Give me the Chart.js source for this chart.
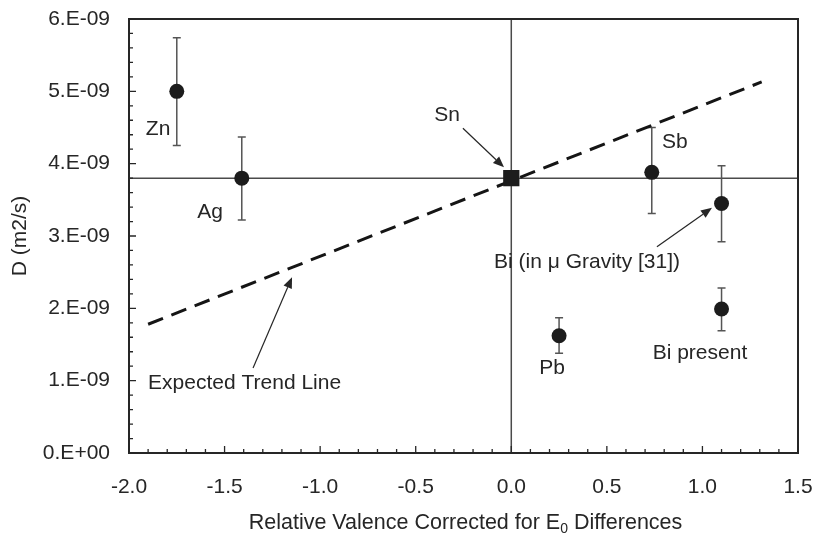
<!DOCTYPE html>
<html lang="en">
<head>
<meta charset="UTF-8">
<title>Diffusion coefficient vs relative valence</title>
<script src="https://cdn.jsdelivr.net/npm/chart.js"></script>
<style>
  body { margin: 0; background: #fff; }
  .wrap { width: 814px; height: 535px; position: relative; }
</style>
</head>
<body>
<div class="wrap"><canvas id="chart"></canvas></div>
<script>
// measured solutes: x = relative valence, y = D (m2/s), with error bar limits
const solutes   = ['Zn', 'Ag', 'Sb', 'Bi (in \u03bc Gravity [31])', 'Pb', 'Bi present'];
const valence   = [-1.75, -1.41, 0.735, 1.10, 0.25, 1.10];
const diffD     = [5.00e-9, 3.80e-9, 3.88e-9, 3.45e-9, 1.62e-9, 1.99e-9];
const errUpper  = [5.74e-9, 4.37e-9, 4.50e-9, 3.97e-9, 1.87e-9, 2.28e-9];
const errLower  = [4.25e-9, 3.22e-9, 3.31e-9, 2.92e-9, 1.38e-9, 1.69e-9];

// solvent reference point (Sn) - also sets the cross lines
const snValence = 0.0;
const snD       = 3.80e-9;

// expected trend line end points
const trendX = [-1.90, 1.31];
const trendY = [1.78e-9, 5.13e-9];

const xTickValues = [-2.0, -1.5, -1.0, -0.5, 0.0, 0.5, 1.0, 1.5];
const xTickLabels = ['-2.0', '-1.5', '-1.0', '-0.5', '0.0', '0.5', '1.0', '1.5'];
const yTickLabels = ['0.E+00', '1.E-09', '2.E-09', '3.E-09', '4.E-09', '5.E-09', '6.E-09'];

const FONT = '"Liberation Sans", Arial, sans-serif';
const INK = '#262626';

// text labels and arrows, placed in data units
const notes = [
  { text: 'Zn', x: -1.848, y: 4.47e-9, align: 'center' },
  { text: 'Ag', x: -1.576, y: 3.33e-9, align: 'center' },
  { text: 'Sn', x: -0.336, y: 4.67e-9, align: 'center' },
  { text: 'Sb', x: 0.789, y: 4.29e-9, align: 'left' },
  { text: 'Bi (in \u03bc Gravity [31])', x: -0.09, y: 2.64e-9, align: 'left' },
  { text: 'Pb', x: 0.213, y: 1.175e-9, align: 'center' },
  { text: 'Bi present', x: 0.987, y: 1.38e-9, align: 'center' },
  { text: 'Expected Trend Line', x: -1.90, y: 0.97e-9, align: 'left' }
];
const arrows = [
  { from: [-0.253, 4.49e-9], to: [-0.038, 3.95e-9] },
  { from: [0.762, 2.85e-9], to: [1.05, 3.39e-9] },
  { from: [-1.351, 1.175e-9], to: [-1.147, 2.43e-9] }
];

const pointData = valence.map((v, i) => ({ x: v, y: diffD[i] }));

// keep tick label overhang from shrinking the plot area
function noOverhang(s) {
  s.paddingTop = 0; s.paddingBottom = 0;
  s.paddingLeft = 0; s.paddingRight = 0;
}

const underlay = {
  id: 'underlay',
  beforeDatasetsDraw(chart) {
    const { ctx, chartArea: a, scales: { x, y } } = chart;
    ctx.save();
    // cross lines through Sn
    ctx.strokeStyle = '#4a4a4a';
    ctx.lineWidth = 1.5;
    const cx = x.getPixelForValue(snValence);
    const cy = y.getPixelForValue(snD);
    ctx.beginPath();
    ctx.moveTo(cx, a.top); ctx.lineTo(cx, a.bottom);
    ctx.moveTo(a.left, cy); ctx.lineTo(a.right, cy);
    ctx.stroke();
    // error bars
    ctx.strokeStyle = '#555';
    ctx.lineWidth = 1.5;
    valence.forEach((v, i) => {
      const px = x.getPixelForValue(v);
      const pt = y.getPixelForValue(errUpper[i]);
      const pb = y.getPixelForValue(errLower[i]);
      ctx.beginPath();
      ctx.moveTo(px, pt); ctx.lineTo(px, pb);
      ctx.moveTo(px - 4, pt); ctx.lineTo(px + 4, pt);
      ctx.moveTo(px - 4, pb); ctx.lineTo(px + 4, pb);
      ctx.stroke();
    });
    ctx.restore();
  }
};

function drawArrow(ctx, x1, y1, x2, y2) {
  const ang = Math.atan2(y2 - y1, x2 - x1);
  const len = 11, half = 4.5;
  const bx = x2 - len * Math.cos(ang), by = y2 - len * Math.sin(ang);
  ctx.beginPath();
  ctx.moveTo(x1, y1); ctx.lineTo(bx, by);
  ctx.stroke();
  ctx.beginPath();
  ctx.moveTo(x2, y2);
  ctx.lineTo(bx + half * Math.sin(ang), by - half * Math.cos(ang));
  ctx.lineTo(bx - half * Math.sin(ang), by + half * Math.cos(ang));
  ctx.closePath();
  ctx.fill();
}

const overlay = {
  id: 'overlay',
  afterDraw(chart) {
    const { ctx, chartArea: a, scales: { x, y } } = chart;
    ctx.save();
    // frame
    ctx.strokeStyle = INK;
    ctx.lineWidth = 2;
    ctx.strokeRect(a.left, a.top, a.right - a.left, a.bottom - a.top);
    // inward ticks: majors and minors
    ctx.lineWidth = 1.3;
    ctx.beginPath();
    for (let i = 0; i <= 35; i++) {
      const px = x.getPixelForValue(-2 + i * 0.1);
      const len = i % 5 === 0 ? 7 : 4;
      ctx.moveTo(px, a.bottom); ctx.lineTo(px, a.bottom - len);
    }
    for (let i = 0; i <= 30; i++) {
      const py = y.getPixelForValue(i * 0.2e-9);
      const len = i % 5 === 0 ? 7 : 4;
      ctx.moveTo(a.left, py); ctx.lineTo(a.left + len, py);
    }
    ctx.stroke();

    // annotations
    ctx.fillStyle = INK;
    ctx.font = '21px ' + FONT;
    ctx.textBaseline = 'middle';
    notes.forEach(n => {
      ctx.textAlign = n.align;
      ctx.fillText(n.text, x.getPixelForValue(n.x), y.getPixelForValue(n.y));
    });
    ctx.strokeStyle = INK;
    ctx.lineWidth = 1.2;
    arrows.forEach(ar => {
      drawArrow(ctx,
        x.getPixelForValue(ar.from[0]), y.getPixelForValue(ar.from[1]),
        x.getPixelForValue(ar.to[0]), y.getPixelForValue(ar.to[1]));
    });

    // x axis title with subscript
    const partA = 'Relative Valence Corrected for E';
    const sub = '0';
    const partB = ' Differences';
    ctx.textAlign = 'left';
    ctx.textBaseline = 'alphabetic';
    ctx.font = '21.5px ' + FONT;
    const wA = ctx.measureText(partA).width;
    const wB = ctx.measureText(partB).width;
    ctx.font = '14px ' + FONT;
    const wS = ctx.measureText(sub).width;
    const total = wA + wS + wB;
    const tx = (a.left + a.right) / 2 + 2 - total / 2;
    const base = 529;
    ctx.font = '21.5px ' + FONT;
    ctx.fillText(partA, tx, base);
    ctx.font = '14px ' + FONT;
    ctx.fillText(sub, tx + wA, base + 4);
    ctx.font = '21.5px ' + FONT;
    ctx.fillText(partB, tx + wA + wS, base);
    ctx.restore();
  }
};

new Chart(document.getElementById('chart'), {
  type: 'scatter',
  data: {
    datasets: [
      {
        label: 'Solutes',
        data: pointData,
        pointStyle: 'circle',
        pointRadius: 7.5,
        backgroundColor: '#1c1c1c',
        borderColor: '#1c1c1c',
        borderWidth: 0
      },
      {
        label: 'Sn',
        data: [{ x: snValence, y: snD }],
        pointStyle: 'rect',
        pointRadius: 11.5,
        backgroundColor: '#1c1c1c',
        borderColor: '#1c1c1c',
        borderWidth: 0
      },
      {
        label: 'Expected Trend Line',
        type: 'line',
        data: trendX.map((v, i) => ({ x: v, y: trendY[i] })),
        borderColor: '#151515',
        borderWidth: 3,
        borderDash: [16, 9],
        pointRadius: 0,
        fill: false
      }
    ]
  },
  options: {
    responsive: true,
    maintainAspectRatio: false,
    animation: false,
    layout: { padding: { top: 19, right: 16, left: 0, bottom: 0 } },
    plugins: { legend: { display: false }, tooltip: { enabled: false } },
    scales: {
      x: {
        type: 'linear',
        min: -2.0,
        max: 1.5,
        afterFit(s) { s.height = 82; noOverhang(s); },
        afterBuildTicks(s) { s.ticks = xTickValues.map(v => ({ value: v })); },
        grid: { display: false, drawTicks: false },
        border: { display: false },
        ticks: {
          autoSkip: false,
          maxRotation: 0,
          padding: 22,
          color: INK,
          font: { family: FONT, size: 21 },
          callback: (v, i) => xTickLabels[i]
        },
        title: { display: false }
      },
      y: {
        type: 'linear',
        min: 0,
        max: 6e-9,
        afterFit(s) { s.width = 129; noOverhang(s); },
        afterBuildTicks(s) { s.ticks = yTickLabels.map((t, i) => ({ value: i * 1e-9 })); },
        grid: { display: false, drawTicks: false },
        border: { display: false },
        ticks: {
          padding: 19,
          color: INK,
          font: { family: FONT, size: 21 },
          callback: (v, i) => yTickLabels[i]
        },
        title: {
          display: true,
          text: 'D (m2/s)',
          color: INK,
          font: { family: FONT, size: 21 },
          padding: { top: 8, bottom: 0 }
        }
      }
    }
  },
  plugins: [underlay, overlay]
});
</script>
</body>
</html>
